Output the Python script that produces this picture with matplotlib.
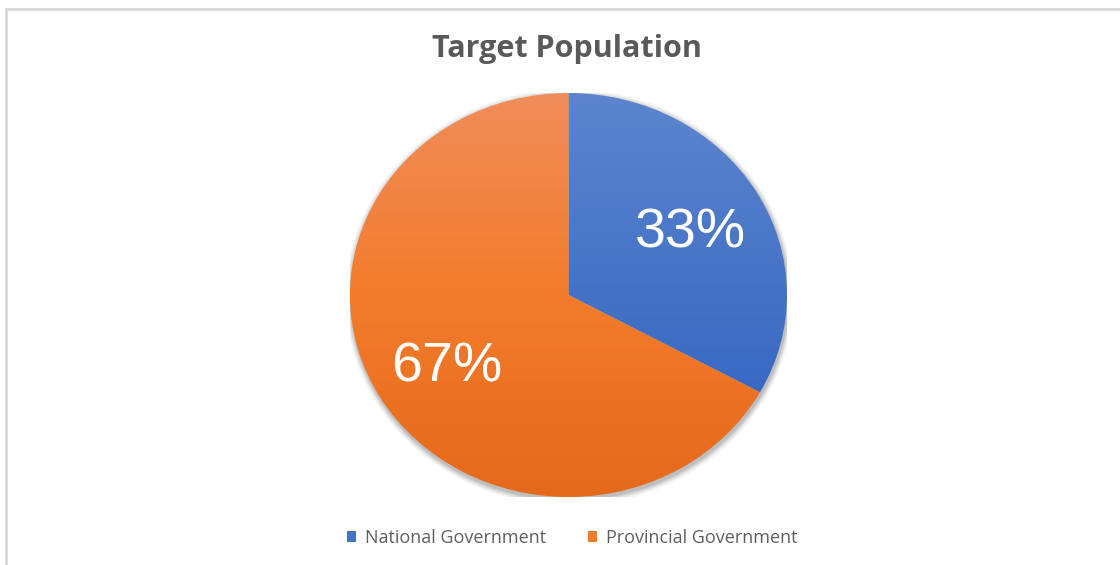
import matplotlib
matplotlib.use("Agg")
import matplotlib.pyplot as plt
import numpy as np
from matplotlib.colors import LinearSegmentedColormap
from matplotlib.patches import Ellipse, Rectangle

# ── Data ──────────────────────────────────────────────────────────────────────
labels = ["National Government", "Provincial Government"]
shares = [33, 67]
title = "Target Population"

# top -> bottom colours of the vertical gradient for each slice
grad_colors = [
    ["#5c85ce", "#2d5fbe"],
    ["#f08d5a", "#f37c2c", "#e5691b"],
]
legend_colors = ["#4472c4", "#ed7d31"]

# ── Figure ────────────────────────────────────────────────────────────────────
W, H = 1120, 565
fig = plt.figure(figsize=(W / 100, H / 100), dpi=100)
fig.patch.set_facecolor("white")

# light frame of the chart area (only top and left edge visible)
fig.add_artist(Rectangle((6 / W, -0.1), 1.2, (H - 8.5) / H + 0.1,
                         transform=fig.transFigure, fill=False,
                         edgecolor="#d9d9d9", linewidth=2))

# pie box in pixels: x 350..787, y 93..497  (stretched ellipse)
x0, x1, y0, y1 = 350, 787, 93, 497
ax = fig.add_axes([x0 / W, (H - y1) / H, (x1 - x0) / W, (y1 - y0) / H])

# soft shadow under the pie
for k, a in zip(range(6, 0, -1), [0.02, 0.03, 0.04, 0.05, 0.06, 0.08]):
    ax.add_patch(Ellipse((0.004, -0.012), 2 + k * 0.009, 2 + k * 0.011,
                         facecolor="black", edgecolor="none", alpha=a, zorder=0))

wedges, _, autotexts = ax.pie(
    shares, startangle=90, counterclock=False, autopct="%1.0f%%",
    pctdistance=0.65, wedgeprops=dict(linewidth=0, edgecolor="none"),
    textprops=dict(color="white", fontsize=40, family="Liberation Sans"))

# fill each wedge with its vertical gradient (row 0 = bottom)
grad = np.linspace(0, 1, 256).reshape(-1, 1)
for w, cols in zip(wedges, grad_colors):
    w.set_facecolor("none")
    cmap = LinearSegmentedColormap.from_list("g", cols[::-1])
    im = ax.imshow(grad, cmap=cmap, extent=(-1, 1, -1, 1), aspect="auto",
                   origin="lower", zorder=1, interpolation="bicubic")
    im.set_clip_path(w)

# nudge the percentage labels a little lower inside the slices
for t in autotexts:
    tx, ty = t.get_position()
    t.set_position((tx, ty - 0.028))
    t.set_zorder(5)

ax.set_aspect("auto")
ax.set_xlim(-1, 1)
ax.set_ylim(-1, 1)
ax.axis("off")

fig.text(567 / W, 1 - 49 / H, title, ha="center", va="center",
         fontsize=22, fontweight="bold", color="#595959", family="Open Sans")

handles = [Rectangle((0, 0), 1, 1, facecolor=c, edgecolor="none")
           for c in legend_colors]
leg = fig.legend(handles, labels, loc="center", bbox_to_anchor=(572 / W, 1 - 538 / H),
                 ncol=2, frameon=False, handlelength=0.5, handleheight=0.5,
                 handletextpad=0.5, columnspacing=2.3,
                 prop=dict(family="Open Sans", size=13))
for t in leg.get_texts():
    t.set_color("#5f5f5f")

fig.savefig("out.png", dpi=100, facecolor="white")
